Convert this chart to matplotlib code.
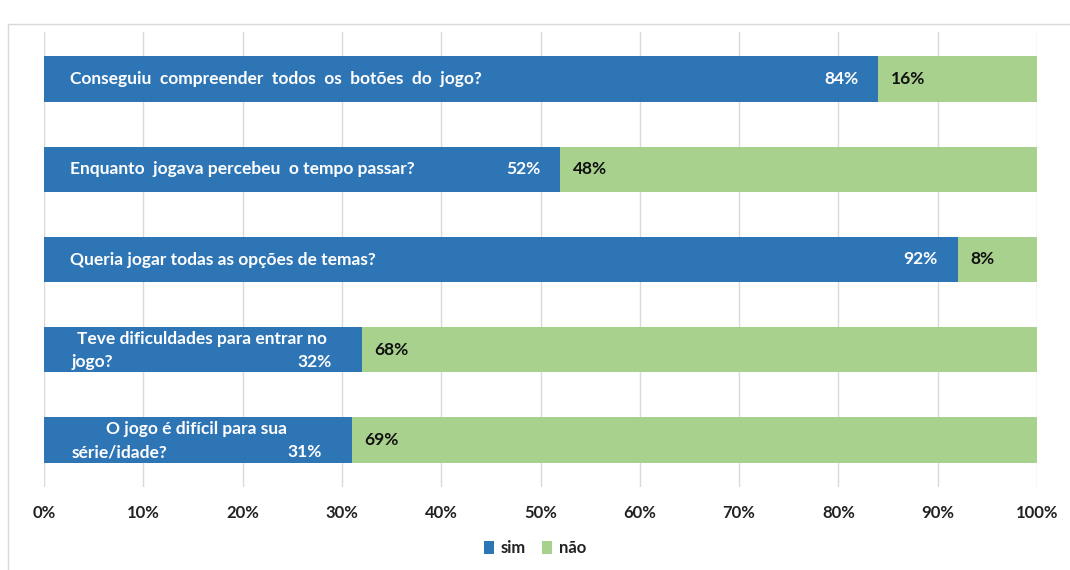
import matplotlib
matplotlib.use("Agg")
import matplotlib.pyplot as plt
from matplotlib.lines import Line2D

questions = [
    "Conseguiu  compreender  todos  os  botões  do  jogo?",
    "Enquanto  jogava percebeu  o tempo passar?",
    "Queria jogar todas as opções de temas?",
    "Teve dificuldades para entrar no\njogo?",
    "O jogo é difícil para sua\nsérie/idade?",
]
sim = [84, 52, 92, 32, 31]
nao = [16, 48, 8, 68, 69]
xticks = [0, 10, 20, 30, 40, 50, 60, 70, 80, 90, 100]
xticklabels = [f"{v}%" for v in xticks]
series_names = ["sim", "não"]

BLUE = "#2E75B6"
GREEN = "#A9D18E"
FONT = ["Lato", "DejaVu Sans"]
plt.rcParams["font.family"] = FONT

fig = plt.figure(figsize=(10.7, 5.7), dpi=100)
ax = fig.add_axes([44 / 1070, 1 - 487 / 570, (1037 - 44) / 1070, (487 - 32) / 570])

ypos = list(range(len(questions)))
ax.barh(ypos, sim, height=0.5, color=BLUE, label=series_names[0], zorder=3)
ax.barh(ypos, nao, left=sim, height=0.5, color=GREEN, label=series_names[1], zorder=3)

ax.set_xlim(0, 100)
ax.set_ylim(4.52, -0.52)
ax.set_xticks(xticks)
ax.set_xticklabels(xticklabels, fontweight="bold", fontsize=12, color="#222222")
ax.set_yticks([])
ax.tick_params(axis="x", length=0, pad=13)
for s in ax.spines.values():
    s.set_visible(False)
ax.grid(axis="x", color="#d9d9d9", linewidth=1, zorder=0)

fs = 12.5
for i, (q, s, n) in enumerate(zip(questions, sim, nao)):
    if "\n" in q:
        l1, l2 = q.split("\n")
        left = 2.8
        right = s - 3.0
        ax.text((left + right) / 2, i - 0.12, l1, ha="center", va="center",
                color="white", fontweight="bold", fontsize=fs, zorder=4)
        ax.text(left, i + 0.135, l2, ha="left", va="center",
                color="white", fontweight="bold", fontsize=fs, zorder=4)
        ax.text(right, i + 0.135, f"{s}%", ha="right", va="center",
                color="white", fontweight="bold", fontsize=fs, zorder=4)
    else:
        ax.text(2.6, i, q, ha="left", va="center", color="white",
                fontweight="bold", fontsize=fs, zorder=4)
        ax.text(s - 2.0, i, f"{s}%", ha="right", va="center", color="white",
                fontweight="bold", fontsize=fs, zorder=4)
    ax.text(s + 1.3, i, f"{n}%", ha="left", va="center", color="#111111",
            fontweight="bold", fontsize=fs, zorder=4)

leg = fig.legend(loc="center", bbox_to_anchor=(0.5, 1 - 548 / 570), ncol=2,
                 frameon=False, handlelength=0.6, handleheight=0.8,
                 handletextpad=0.4, columnspacing=1.0,
                 prop={"weight": "bold", "size": 12})
for t in leg.get_texts():
    t.set_color("#222222")

# chart area border (left and top visible)
fig.add_artist(Line2D([8 / 1070, 8 / 1070], [0, 1 - 24 / 570], transform=fig.transFigure,
                      color="#d9d9d9", linewidth=1))
fig.add_artist(Line2D([8 / 1070, 1], [1 - 24 / 570, 1 - 24 / 570], transform=fig.transFigure,
                      color="#d9d9d9", linewidth=1))

fig.savefig("out.png", dpi=100)
